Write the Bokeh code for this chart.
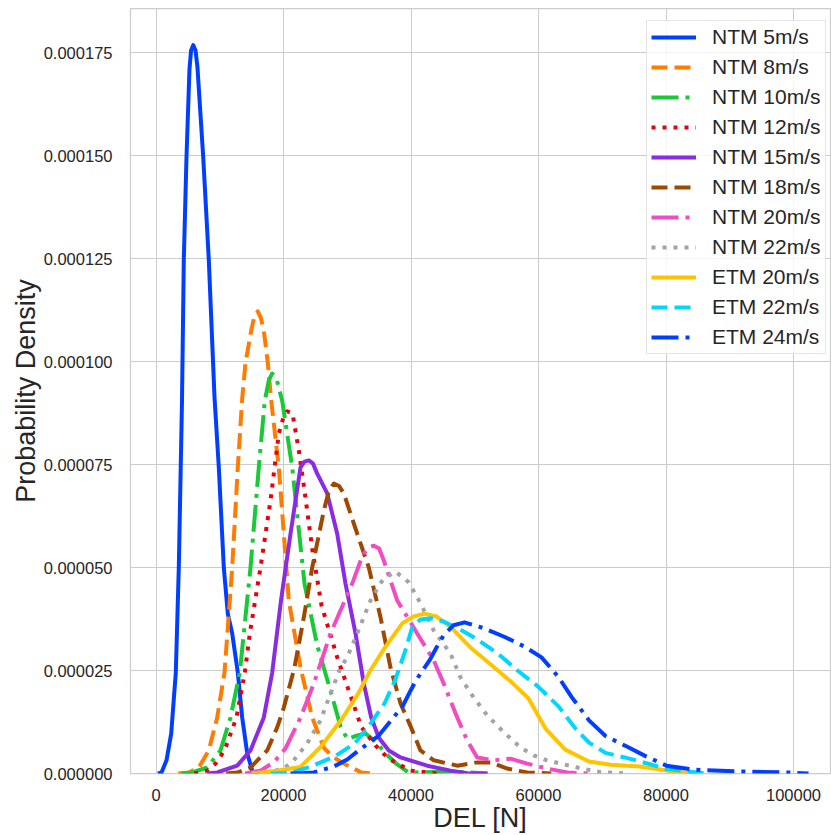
from bokeh.plotting import figure
from bokeh.models import Range1d, FixedTicker, PrintfTickFormatter, Legend, LegendItem, ColumnDataSource
from bokeh.embed import file_html
from bokeh.resources import INLINE

# ---- data (x: DEL [N], y: density in 1e-6) ----
ntm5_x = [300, 863, 1647, 2384, 3106, 3576, 4078, 4361, 4784, 5250, 5500, 5835, 6200, 6500, 7404, 8282, 9177, 9851, 10635, 11263, 11953, 12831, 13521, 14306, 15090, 16200]
ntm5_y = [0, 0.24, 3.2, 9.7, 24.5, 50, 90.5, 124.7, 149.7, 171, 175.5, 176.8, 175.5, 171.5, 149.7, 124.7, 91.3, 74.3, 50, 38.8, 34, 24.5, 13.6, 4.9, 0.7, 0]

ntm8_x = [3500, 5145, 6714, 8282, 9600, 10745, 11953, 12831, 13521, 14039, 14933, 15400, 15969, 16450, 16910, 17537, 18039, 19262, 20047, 20831, 22667, 24502, 26321, 27686, 29725, 32235, 34000]
ntm8_y = [0, 0.24, 1.46, 5.6, 13.6, 24.5, 50, 74.3, 91, 99.7, 107.5, 110.8, 112.2, 110.6, 107.5, 99.7, 91, 74.3, 58.2, 42, 25.7, 13.6, 6.3, 4.1, 2.2, 0.24, 0]

ntm10_x = [4000, 5678, 8031, 10118, 11686, 13145, 14823, 16125, 17066, 17700, 18227, 18900, 19796, 21364, 23300, 25286, 27373, 28941, 30039, 31451, 32863, 34431, 35999, 37834, 39608, 42000, 46000, 49000, 52000]
ntm10_y = [0, 0.24, 1.46, 5.6, 13.6, 24.5, 50, 74.3, 90.5, 95.5, 97.1, 95.8, 90.5, 74.3, 46, 31.1, 20.1, 11.4, 8.3, 9.2, 9.7, 7.8, 4.9, 2.2, 0.24, 0.3, 0.5, 0.3, 0]

ntm12_x = [6000, 8031, 9333, 10745, 12627, 13929, 14714, 16392, 17961, 19262, 20000, 20580, 21412, 22400, 23294, 24502, 25961, 28424, 30510, 32235, 34431, 36470, 39922, 44000]
ntm12_y = [0, 0.7, 2.4, 5.6, 13.6, 24.5, 34, 50, 66.3, 82.5, 86.5, 87.9, 87.4, 78.4, 68.7, 54.6, 40.8, 28.2, 18.9, 11.2, 6.8, 3.6, 0.7, 0]

ntm15_x = [8000, 9600, 12737, 14823, 16910, 18227, 19608, 21098, 22667, 23300, 23973, 24600, 25286, 26855, 28424, 29725, 31294, 32596, 33757, 34949, 36518, 38353, 42541, 46196, 48863, 52000]
ntm15_y = [0, 0.24, 1.9, 5.6, 13.6, 24.5, 42, 58.2, 74.3, 75.7, 76, 75.3, 72.8, 68, 58.2, 46.1, 34, 21.8, 13.6, 8.7, 5.6, 3.9, 1.9, 0.7, 0.07, 0]

ntm18_x = [11000, 12737, 14823, 17443, 19012, 20047, 21725, 23184, 24502, 26321, 27100, 27890, 28700, 29459, 31561, 33380, 35216, 36784, 38353, 39922, 41490, 43576, 47247, 50384, 52471, 55090, 58227, 62000]
ntm18_y = [0, 0.24, 1.46, 5.6, 11.2, 16, 25.7, 37.9, 50, 63.8, 68.5, 70.4, 69.8, 68, 58.2, 50, 37.9, 25.7, 17, 11.5, 5.6, 3.2, 1.9, 2.7, 2.7, 1.2, 0.24, 0]

ntm20_x = [14000, 16392, 18478, 20314, 22667, 24753, 27373, 30777, 32392, 33300, 34165, 35000, 35733, 37835, 40972, 43576, 45145, 46980, 48815, 50384, 52988, 55606, 58227, 61364, 64500, 68000]
ntm20_y = [0, 0.7, 2.7, 6.1, 13.6, 21.8, 34, 46.1, 52.9, 54.8, 55.3, 54.6, 51.7, 42, 34, 27.4, 21.8, 14.6, 8, 3.9, 3.2, 3.6, 2.4, 1.2, 0.24, 0]

ntm22_x = [17000, 20047, 21615, 23718, 25804, 27373, 28941, 29992, 31561, 33647, 35686, 37568, 39655, 41490, 43576, 46196, 47765, 49850, 51953, 54556, 57176, 59263, 61364, 63451, 66070, 69725, 74000]
ntm22_y = [0, 1.2, 3.2, 7.3, 12.9, 19.4, 25.7, 28.2, 34, 42, 47.3, 49, 46.4, 41.3, 34.7, 29.1, 23.3, 18.4, 14.1, 10, 6.3, 4.4, 3.2, 2.4, 1.46, 0.3, 0]

etm20_x = [15000, 19012, 22667, 25914, 29098, 31765, 33616, 36000, 38667, 40392, 42118, 44000, 46118, 49302, 52471, 55686, 58431, 61098, 64188, 67921, 71294, 75890, 81176, 85412]
etm20_y = [0, 0.7, 1.6, 6.6, 13.1, 19.5, 25, 30.8, 36.5, 38.1, 38.8, 38.1, 35.7, 30.6, 26.5, 22.3, 18.2, 10.9, 5.8, 2.9, 2.1, 1.7, 0.5, 0]

etm22_x = [18000, 21098, 24313, 28000, 31231, 33333, 35843, 37490, 38980, 40235, 41490, 43059, 45098, 47765, 50431, 53569, 56706, 59937, 63137, 65804, 67921, 70510, 73804, 76941, 80078, 83373, 86196]
etm22_y = [0, 0.12, 1.7, 4.1, 7.4, 11.4, 17, 22.6, 29.2, 35.7, 37.4, 37.7, 36.9, 34.9, 32.5, 29.2, 25, 21.1, 16.3, 10.9, 7.5, 5, 3.8, 2.5, 1.1, 0.5, 0]

etm24_x = [21098, 24706, 27890, 29992, 32392, 34949, 37255, 38745, 39922, 40863, 43002, 44000, 45098, 46667, 48392, 51373, 54620, 57804, 60471, 63137, 65176, 67921, 70510, 73773, 76941, 80078, 84392, 91843, 99529, 102353]
etm24_y = [0, 0.24, 1.7, 3.4, 6.3, 9.2, 13.6, 16.5, 20.1, 22.8, 27.7, 30.6, 33.5, 36, 36.7, 35.3, 33.2, 30.8, 28.2, 23.4, 18.6, 12.9, 9.1, 6.6, 4.1, 1.9, 0.9, 0.5, 0.24, 0]

labels = ["NTM 5m/s", "NTM 8m/s", "NTM 10m/s", "NTM 12m/s", "NTM 15m/s", "NTM 18m/s",
          "NTM 20m/s", "NTM 22m/s", "ETM 20m/s", "ETM 22m/s", "ETM 24m/s"]
xs = [ntm5_x, ntm8_x, ntm10_x, ntm12_x, ntm15_x, ntm18_x, ntm20_x, ntm22_x, etm20_x, etm22_x, etm24_x]
ys = [ntm5_y, ntm8_y, ntm10_y, ntm12_y, ntm15_y, ntm18_y, ntm20_y, ntm22_y, etm20_y, etm22_y, etm24_y]
colors = ["#023eff", "#ff7c00", "#1ac938", "#e8000b", "#8b2be2", "#9f4800",
          "#f14cc1", "#a3a3a3", "#ffc400", "#00d7ff", "#023eff"]
dashes = ["solid", "16 7", "27 7 4 7", "4 7"] * 3

x_ticks = [0, 20000, 40000, 60000, 80000, 100000]
y_ticks = [0, 25e-6, 50e-6, 75e-6, 100e-6, 125e-6, 150e-6, 175e-6]

FONT = "Liberation Sans"
TXT = "#262626"
GRID = "#cccccc"

p = figure(width=831, height=835, output_backend="svg", toolbar_location=None,
           x_range=Range1d(-4000, 105800), y_range=Range1d(0, 185.7e-6),
           min_border_left=130, min_border_right=1, min_border_top=8, min_border_bottom=62)
p.background_fill_color = "white"
p.border_fill_color = "white"
p.outline_line_color = GRID
p.outline_line_width = 1.25

items = []
for lab, xv, yv, c, d in zip(labels, xs, ys, colors, dashes):
    src = ColumnDataSource(dict(x=xv, y=[v * 1e-6 for v in yv]))
    r = p.line("x", "y", source=src, line_color=c, line_width=4, line_dash=d, line_join="round")
    items.append(LegendItem(label=lab, renderers=[r]))

p.xaxis.ticker = FixedTicker(ticks=x_ticks)
p.yaxis.ticker = FixedTicker(ticks=y_ticks)
p.xgrid.ticker = FixedTicker(ticks=x_ticks)
p.ygrid.ticker = FixedTicker(ticks=y_ticks)
p.xaxis.formatter = PrintfTickFormatter(format="%d")
p.yaxis.formatter = PrintfTickFormatter(format="%.6f")

for ax in (p.xaxis[0], p.yaxis[0]):
    ax.axis_line_color = None
    ax.major_tick_line_color = None
    ax.minor_tick_line_color = None
    ax.major_label_text_font = FONT
    ax.major_label_text_font_size = "16.5px"
    ax.major_label_text_color = TXT
    ax.axis_label_text_font = FONT
    ax.axis_label_text_font_size = "27px"
    ax.axis_label_text_font_style = "normal"
    ax.axis_label_text_color = TXT

p.xaxis.axis_label = "DEL [N]"
p.yaxis.axis_label = "Probability Density"
p.xaxis.major_label_standoff = 9
p.xaxis.axis_label_standoff = -1
p.yaxis.major_label_standoff = 12
p.yaxis.axis_label_standoff = 0

for g in (p.xgrid[0], p.ygrid[0]):
    g.grid_line_color = GRID
    g.grid_line_width = 1

legend = Legend(items=items, location=(516, 419))
legend.label_text_font = FONT
legend.label_text_font_size = "21px"
legend.label_text_color = TXT
legend.glyph_width = 45
legend.glyph_height = 24
legend.label_height = 24
legend.label_standoff = 16
legend.padding = 4
legend.spacing = 6
legend.margin = 0
legend.border_line_color = GRID
legend.border_line_width = 1
legend.background_fill_color = "white"
legend.background_fill_alpha = 0.8
p.add_layout(legend)

open("out.html", "w").write(file_html(p, INLINE))
